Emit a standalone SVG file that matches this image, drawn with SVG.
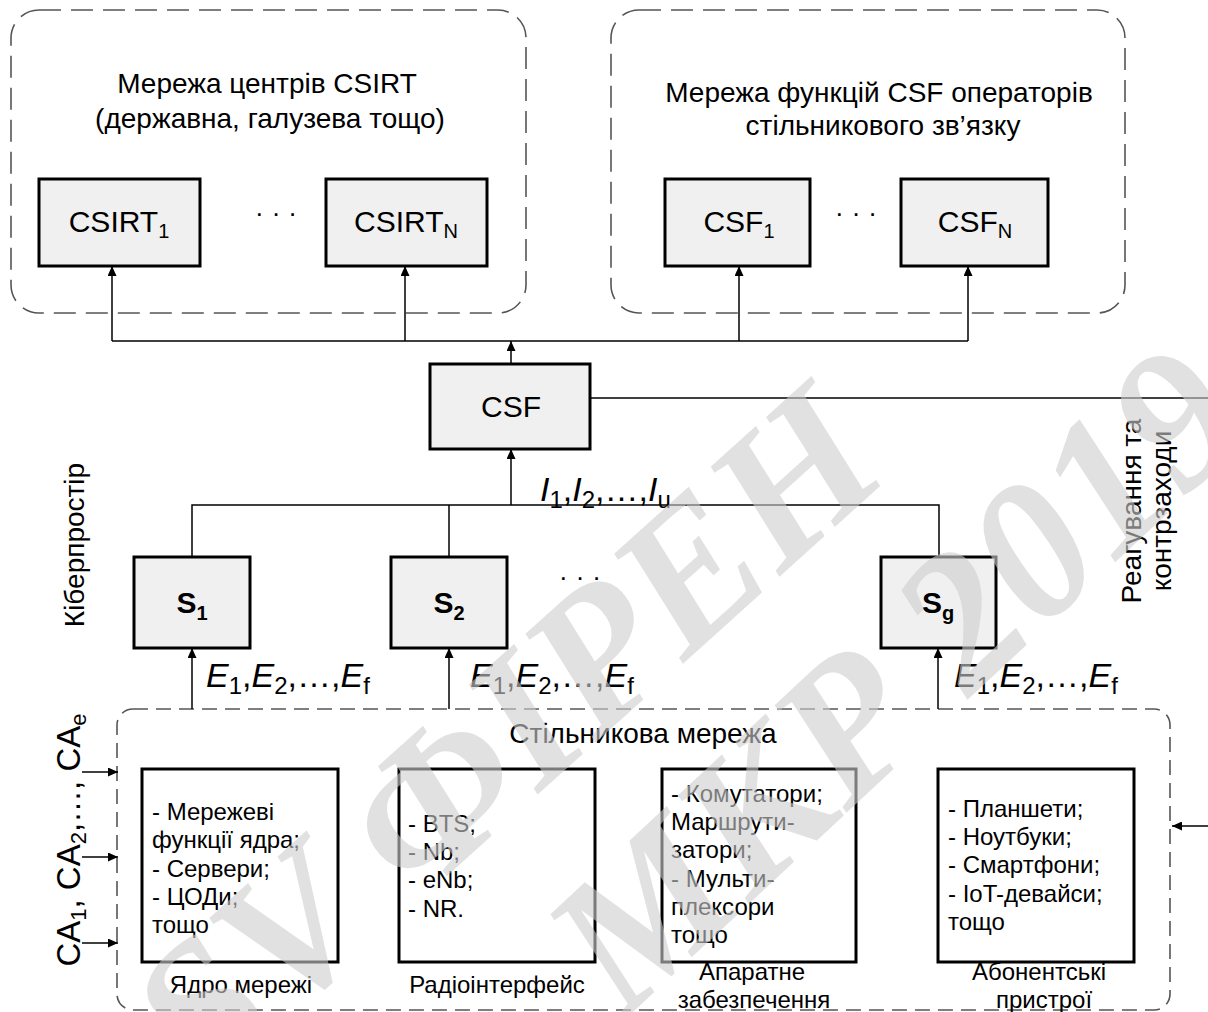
<svg xmlns="http://www.w3.org/2000/svg" width="1208" height="1012" viewBox="0 0 1208 1012">
  <defs>
    <marker id="arrow" markerUnits="userSpaceOnUse" markerWidth="10" markerHeight="9" refX="10" refY="4.5" orient="auto">
      <path d="M0,0 L10,4.5 L0,9 z" fill="#000"/>
    </marker>
    <style>
      text { font-family: "Liberation Sans", Arial, sans-serif; fill: #000; }
      .group { fill: none; stroke: #555; stroke-width: 1.6; stroke-dasharray: 22 10; }
      .cell { fill: none; stroke: #555; stroke-width: 1.6; stroke-dasharray: 15 8; }
      .node { fill: #f0f0f0; stroke: #000; stroke-width: 3; }
      .part { fill: #fff; stroke: #000; stroke-width: 3; }
      .wire { fill: none; stroke: #000; stroke-width: 1.5; }
      .arr { fill: none; stroke: #000; stroke-width: 1.5; marker-end: url(#arrow); }
      .title { font-size: 28px; text-anchor: middle; }
      .lbl { font-size: 30px; text-anchor: middle; }
      .sub { font-size: 20px; }
      .bold { font-weight: bold; }
      .math { font-size: 34px; }
      .msub { font-size: 24px; font-style: normal; }
      .list { font-size: 24px; }
      .cap { font-size: 24px; text-anchor: middle; }
      .dots { font-size: 26px; text-anchor: middle; letter-spacing: 8px; }
      .stamp { font-family: "Liberation Serif", "Times New Roman", serif; font-weight: bold; font-style: italic; font-size: 195px; fill: #cdcdcd; fill-opacity: 0.6; text-anchor: middle; }
    </style>
  </defs>

  <!-- CSIRT network -->
  <g id="csirt-network">
    <rect class="group" x="11" y="10" width="515" height="303" rx="28"/>
    <text class="title" x="267" y="93">Мережа центрів CSIRT</text>
    <text class="title" x="270" y="128">(державна, галузева тощо)</text>
    <text class="dots" x="280" y="222">···</text>
  </g>
  <g id="csirt-1">
    <rect class="node" x="39" y="179" width="161" height="87"/>
    <text class="lbl" x="119" y="232">CSIRT<tspan class="sub" dy="6">1</tspan></text>
  </g>
  <g id="csirt-n">
    <rect class="node" x="326" y="179" width="161" height="87"/>
    <text class="lbl" x="406" y="232">CSIRT<tspan class="sub" dy="6">N</tspan></text>
  </g>

  <!-- Operator CSF network -->
  <g id="csf-network">
    <rect class="group" x="611" y="10" width="514" height="303" rx="28"/>
    <text class="title" x="879" y="102">Мережа функцій CSF операторів</text>
    <text class="title" x="883" y="135">стільникового зв’язку</text>
    <text class="dots" x="860" y="222">···</text>
  </g>
  <g id="csf-1">
    <rect class="node" x="665" y="179" width="145" height="87"/>
    <text class="lbl" x="739" y="232">CSF<tspan class="sub" dy="6">1</tspan></text>
  </g>
  <g id="csf-n">
    <rect class="node" x="901" y="179" width="147" height="87"/>
    <text class="lbl" x="975" y="232">CSF<tspan class="sub" dy="6">N</tspan></text>
  </g>

  <!-- Central CSF -->
  <g id="csf">
    <rect class="node" x="430" y="364" width="160" height="85"/>
    <text class="lbl" x="511" y="417">CSF</text>
  </g>

  <!-- Sensors -->
  <g id="s-1">
    <rect class="node" x="134" y="557" width="116" height="91"/>
    <text class="lbl bold" x="192" y="613">S<tspan class="sub" dy="7">1</tspan></text>
  </g>
  <g id="s-2">
    <rect class="node" x="391" y="557" width="116" height="91"/>
    <text class="lbl bold" x="449" y="613">S<tspan class="sub" dy="7">2</tspan></text>
  </g>
  <text class="dots" x="584" y="586">···</text>
  <g id="s-g">
    <rect class="node" x="881" y="557" width="115" height="91"/>
    <text class="lbl bold" x="938" y="613">S<tspan class="sub" dy="7">g</tspan></text>
  </g>

  <!-- Side labels -->
  <text class="title" transform="translate(84,545) rotate(-90)" x="0" y="0">Кіберпростір</text>
  <text class="title" transform="translate(1141,511) rotate(-90)" x="0" y="0">Реагування та</text>
  <text class="title" transform="translate(1171,511) rotate(-90)" x="0" y="0">контрзаходи</text>
  <text transform="translate(80,840) rotate(-90)" x="0" y="0" font-size="33" text-anchor="middle">CA<tspan font-size="22" dy="6">1</tspan><tspan dy="-6">, CA</tspan><tspan font-size="22" dy="6">2</tspan><tspan dy="-6">,…, CA</tspan><tspan font-size="22" dy="6">e</tspan></text>

  <!-- Flow labels -->
  <text class="math" x="540" y="501"><tspan font-style="italic">I</tspan><tspan class="msub" dy="7">1</tspan><tspan dy="-7">,</tspan><tspan font-style="italic">I</tspan><tspan class="msub" dy="7">2</tspan><tspan dy="-7">,…,</tspan><tspan font-style="italic">I</tspan><tspan class="msub" dy="7">u</tspan></text>
  <text class="math" x="206" y="687"><tspan font-style="italic">E</tspan><tspan class="msub" dy="7">1</tspan><tspan dy="-7">,</tspan><tspan font-style="italic">E</tspan><tspan class="msub" dy="7">2</tspan><tspan dy="-7">,…,</tspan><tspan font-style="italic">E</tspan><tspan class="msub" dy="7">f</tspan></text>
  <text class="math" x="470" y="687"><tspan font-style="italic">E</tspan><tspan class="msub" dy="7">1</tspan><tspan dy="-7">,</tspan><tspan font-style="italic">E</tspan><tspan class="msub" dy="7">2</tspan><tspan dy="-7">,…,</tspan><tspan font-style="italic">E</tspan><tspan class="msub" dy="7">f</tspan></text>
  <text class="math" x="954" y="687"><tspan font-style="italic">E</tspan><tspan class="msub" dy="7">1</tspan><tspan dy="-7">,</tspan><tspan font-style="italic">E</tspan><tspan class="msub" dy="7">2</tspan><tspan dy="-7">,…,</tspan><tspan font-style="italic">E</tspan><tspan class="msub" dy="7">f</tspan></text>

  <!-- Cellular network -->
  <g id="cellular-network">
    <rect class="cell" x="117" y="709" width="1053" height="301" rx="16"/>
    <text class="title" x="643" y="743">Стільникова мережа</text>
  </g>
  <g id="core">
    <rect class="part" x="142" y="769" width="196" height="193"/>
    <text class="list"><tspan x="152" y="820">- Мережеві</tspan><tspan x="152" y="848">функції ядра;</tspan><tspan x="152" y="877">- Сервери;</tspan><tspan x="152" y="905">- ЦОДи;</tspan><tspan x="152" y="933">тощо</tspan></text>
    <text class="cap" x="241" y="993">Ядро мережі</text>
  </g>
  <g id="radio">
    <rect class="part" x="399" y="769" width="196" height="193"/>
    <text class="list"><tspan x="408" y="832">- BTS;</tspan><tspan x="408" y="860">- Nb;</tspan><tspan x="408" y="888">- eNb;</tspan><tspan x="408" y="917">- NR.</tspan></text>
    <text class="cap" x="497" y="993">Радіоінтерфейс</text>
  </g>
  <g id="hardware">
    <rect class="part" x="662" y="769" width="194" height="193"/>
    <text class="list"><tspan x="671" y="802">- Комутатори;</tspan><tspan x="671" y="830">Маршрути-</tspan><tspan x="671" y="858">затори;</tspan><tspan x="671" y="887">- Мульти-</tspan><tspan x="671" y="915">плексори</tspan><tspan x="671" y="943">тощо</tspan></text>
    <text class="cap" x="752" y="980">Апаратне</text>
    <text class="cap" x="754" y="1008">забезпечення</text>
  </g>
  <g id="devices">
    <rect class="part" x="938" y="769" width="196" height="193"/>
    <text class="list"><tspan x="948" y="817">- Планшети;</tspan><tspan x="948" y="845">- Ноутбуки;</tspan><tspan x="948" y="873">- Смартфони;</tspan><tspan x="948" y="902">- IoT-девайси;</tspan><tspan x="948" y="930">тощо</tspan></text>
    <text class="cap" x="1039" y="980">Абонентські</text>
    <text class="cap" x="1044" y="1008">пристрої</text>
  </g>

  <!-- Connectors -->
  <g id="connectors">
    <path class="wire" d="M112,341 H968"/>
    <path class="arr" d="M112,341 V266"/>
    <path class="arr" d="M405,341 V266"/>
    <path class="arr" d="M739,341 V266"/>
    <path class="arr" d="M968,341 V266"/>
    <path class="arr" d="M511,364 V341"/>
    <path class="wire" d="M590,398 H1208"/>
    <path class="wire" d="M192,557 V505 H939 V557"/>
    <path class="wire" d="M449,505 V557"/>
    <path class="arr" d="M511,505 V449"/>
    <path class="arr" d="M192,709 V648"/>
    <path class="arr" d="M449,709 V648"/>
    <path class="arr" d="M938,709 V648"/>
    <path class="arr" d="M82,772 H118"/>
    <path class="arr" d="M82,857 H118"/>
    <path class="arr" d="M82,943 H118"/>
    <path class="arr" d="M1208,826 H1172"/>
  </g>

  <!-- Overprinted stamp -->
  <g id="stamp">
    <text class="stamp" transform="translate(505,735) rotate(-42)" x="0" y="66">SV ФІРЕН</text>
    <text class="stamp" transform="translate(895,680) rotate(-43)" x="0" y="64">МКР 2019</text>
  </g>
</svg>
